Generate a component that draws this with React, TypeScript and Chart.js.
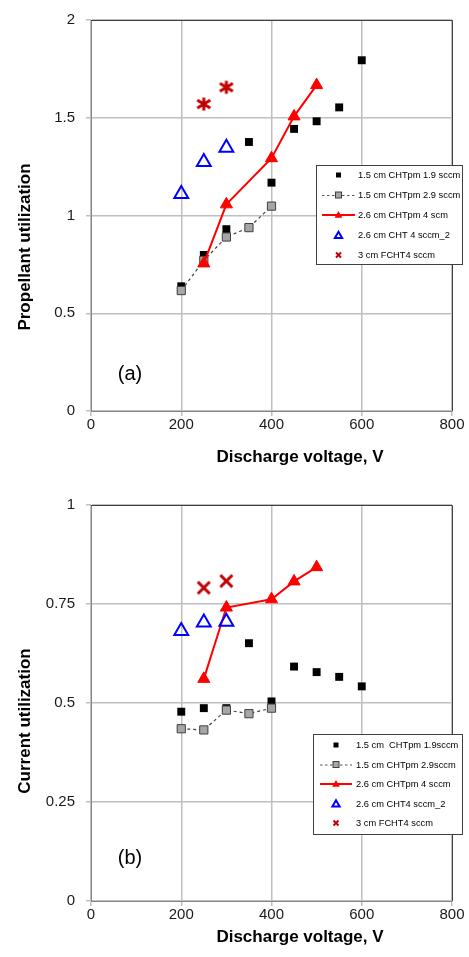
import React, { useEffect, useRef } from "react";
import { Chart, registerables } from "chart.js";

Chart.register(...registerables);

// ---------- data ----------
const X_TICKS = [0, 200, 400, 600, 800];
const Y_TICKS_A = [0, 0.5, 1, 1.5, 2];
const Y_TICKS_B = [0, 0.25, 0.5, 0.75, 1];

const LABELS_A = [
  "1.5 cm CHTpm 1.9 sccm",
  "1.5 cm CHTpm 2.9 sccm",
  "2.6 cm CHTpm 4 scm",
  "2.6 cm CHT 4 sccm_2",
  "3 cm FCHT4 sccm",
];
const LABELS_B = [
  "1.5 cm  CHTpm 1.9sccm",
  "1.5 cm CHTpm 2.9sccm",
  "2.6 cm CHTpm 4 sccm",
  "2.6 cm CHT4 sccm_2",
  "3 cm FCHT4 sccm",
];

// voltages
const V_S1 = [200, 250, 300, 350, 400, 450, 500, 550, 600];
const V_S2 = [200, 250, 300, 350, 400];
const V_S3 = [250, 300, 400, 450, 500];
const V_S4 = [200, 250, 300];
const V_S5 = [250, 300];

// (a) propellant utilization
const PU_S1 = [0.638, 0.798, 0.93, 1.376, 1.168, 1.443, 1.482, 1.553, 1.794];
const PU_S2 = [0.616, 0.77, 0.89, 0.938, 1.048];
const PU_S3 = [0.755, 1.057, 1.293, 1.507, 1.667];
const PU_S4 = [1.11, 1.274, 1.347];
const PU_S5 = [1.57, 1.656];

// (b) current utilization
const CU_S1 = [0.478, 0.487, 0.487, 0.651, 0.504, 0.592, 0.578, 0.566, 0.542];
const CU_S2 = [0.435, 0.432, 0.482, 0.473, 0.487];
const CU_S3 = [0.561, 0.741, 0.762, 0.807, 0.843];
const CU_S4 = [0.682, 0.703, 0.705];
const CU_S5 = [0.791, 0.808];

const FONT = "'Liberation Sans', Arial, sans-serif";
const DARK_RED = "#c00000";

const xy = (xs: number[], ys: number[]) => xs.map((x, i) => ({ x, y: ys[i] }));

function makeMarker(kind: "star" | "x", size: number, color: string, lw: number) {
  const c = document.createElement("canvas");
  c.width = size;
  c.height = size;
  const g = c.getContext("2d")!;
  g.strokeStyle = color;
  g.lineWidth = lw;
  g.lineCap = "butt";
  const m = size / 2;
  const p = 2.5;
  g.beginPath();
  if (kind === "star") {
    g.moveTo(m, p);
    g.lineTo(m, size - p);
    g.moveTo(p, m - 4);
    g.lineTo(size - p, m + 4);
    g.moveTo(p, m + 4);
    g.lineTo(size - p, m - 4);
  } else {
    g.moveTo(p, p);
    g.lineTo(size - p, size - p);
    g.moveTo(p, size - p);
    g.lineTo(size - p, p);
  }
  g.stroke();
  return c;
}

type Geom = {
  top: number;
  bottom: number;
  xAxisH: number;
  yTitleY: number;
  tagY: number;
  legend: { x: number; y: number; w: number; h: number; row0: number; dy: number; lx0: number; lx1: number; tx: number };
};

type PanelProps = {
  height: number;
  top: number;
  yTicks: number[];
  yMax: number;
  yTitle: string;
  tag: string;
  labels: string[];
  ys: number[][];
  star: "star" | "x";
  geom: Geom;
};

function drawTri(ctx: CanvasRenderingContext2D, x: number, y: number, r: number) {
  ctx.beginPath();
  for (let k = 0; k < 3; k++) {
    const a = (k * 2 * Math.PI) / 3;
    const px = x + Math.sin(a) * r;
    const py = y - Math.cos(a) * r;
    if (k === 0) ctx.moveTo(px, py);
    else ctx.lineTo(px, py);
  }
  ctx.closePath();
}

function Panel(props: PanelProps) {
  const ref = useRef<HTMLCanvasElement | null>(null);
  useEffect(() => {
    const canvas = ref.current;
    if (!canvas) return;
    const { geom, labels } = props;
    const starImg = makeMarker(props.star, props.star === "star" ? 18 : 17, DARK_RED, 3);

    const decor = {
      id: "decor",
      afterDraw(chart: any) {
        const ctx: CanvasRenderingContext2D = chart.ctx;
        const a = chart.chartArea;
        ctx.save();
        // top/right frame
        ctx.strokeStyle = "#404040";
        ctx.lineWidth = 1;
        ctx.setLineDash([]);
        ctx.beginPath();
        ctx.moveTo(a.left, Math.round(a.top) + 0.5);
        ctx.lineTo(Math.round(a.right) + 0.5, Math.round(a.top) + 0.5);
        ctx.lineTo(Math.round(a.right) + 0.5, a.bottom);
        ctx.stroke();

        // axis titles
        ctx.fillStyle = "#000";
        ctx.textAlign = "center";
        ctx.textBaseline = "middle";
        ctx.font = `bold 17px ${FONT}`;
        ctx.fillText("Discharge voltage, V", 300, 457);
        ctx.save();
        ctx.translate(25, geom.yTitleY);
        ctx.rotate(-Math.PI / 2);
        ctx.fillText(props.yTitle, 0, 0);
        ctx.restore();

        // tag
        ctx.font = `20px ${FONT}`;
        ctx.fillText(props.tag, 130, geom.tagY);

        // legend
        const L = geom.legend;
        ctx.fillStyle = "#fff";
        ctx.fillRect(L.x, L.y, L.w, L.h);
        ctx.strokeStyle = "#404040";
        ctx.lineWidth = 1;
        ctx.strokeRect(L.x + 0.5, L.y + 0.5, L.w, L.h);
        const mx = (L.lx0 + L.lx1) / 2;
        ctx.font = `9.3px ${FONT}`;
        ctx.textAlign = "left";
        ctx.textBaseline = "middle";
        labels.forEach((lab, i) => {
          const y = L.row0 + i * L.dy;
          ctx.save();
          if (i === 0) {
            ctx.fillStyle = "#000";
            ctx.fillRect(mx - 2.5, y - 2.5, 5, 5);
          } else if (i === 1) {
            ctx.strokeStyle = "#555";
            ctx.lineWidth = 1;
            ctx.setLineDash([2.5, 2.5]);
            ctx.beginPath();
            ctx.moveTo(L.lx0, y + 0.5);
            ctx.lineTo(L.lx1, y + 0.5);
            ctx.stroke();
            ctx.setLineDash([]);
            ctx.fillStyle = "#a6a6a6";
            ctx.fillRect(mx - 3, y - 3, 6, 6);
            ctx.strokeStyle = "#404040";
            ctx.strokeRect(mx - 3, y - 3, 6, 6);
          } else if (i === 2) {
            ctx.strokeStyle = "#ff0000";
            ctx.lineWidth = 2;
            ctx.beginPath();
            ctx.moveTo(L.lx0, y);
            ctx.lineTo(L.lx1, y);
            ctx.stroke();
            ctx.fillStyle = "#ff0000";
            drawTri(ctx, mx, y + 0.5, 4.5);
            ctx.fill();
          } else if (i === 3) {
            ctx.strokeStyle = "#0000ff";
            ctx.lineWidth = 2;
            drawTri(ctx, mx, y + 1, 4.2);
            ctx.stroke();
          } else {
            ctx.strokeStyle = DARK_RED;
            ctx.lineWidth = 2;
            ctx.beginPath();
            ctx.moveTo(mx - 2.5, y - 2.5);
            ctx.lineTo(mx + 2.5, y + 2.5);
            ctx.moveTo(mx - 2.5, y + 2.5);
            ctx.lineTo(mx + 2.5, y - 2.5);
            ctx.stroke();
          }
          ctx.restore();
          ctx.fillStyle = "#000";
          ctx.fillText(lab, L.tx, y + 0.5);
        });
        ctx.restore();
      },
    };

    const [s1, s2, s3, s4, s5] = props.ys;
    const chart = new Chart(canvas, {
      type: "scatter",
      data: {
        datasets: [
          {
            label: labels[0],
            data: xy(V_S1, s1),
            showLine: false,
            pointStyle: "rect",
            pointRadius: 5.6,
            pointHoverRadius: 5.6,
            pointBackgroundColor: "#000",
            pointBorderColor: "#000",
            pointBorderWidth: 0,
            order: 5,
          },
          {
            label: labels[1],
            data: xy(V_S2, s2),
            showLine: true,
            borderColor: "#404040",
            borderWidth: 1.2,
            borderDash: [3, 3],
            pointStyle: "rect",
            pointRadius: 5.8,
            pointHoverRadius: 5.8,
            pointBackgroundColor: "#a6a6a6",
            pointBorderColor: "#404040",
            pointBorderWidth: 1,
            order: 4,
          },
          {
            label: labels[2],
            data: xy(V_S3, s3),
            showLine: true,
            borderColor: "#ff0000",
            borderWidth: 2,
            pointStyle: "triangle",
            pointRadius: 7,
            pointHoverRadius: 7,
            pointBackgroundColor: "#ff0000",
            pointBorderColor: "#ff0000",
            pointBorderWidth: 1,
            order: 3,
          },
          {
            label: labels[3],
            data: xy(V_S4, s4),
            showLine: false,
            pointStyle: "triangle",
            pointRadius: 8,
            pointHoverRadius: 8,
            pointBackgroundColor: "rgba(0,0,0,0)",
            pointBorderColor: "#0000ff",
            pointBorderWidth: 2,
            order: 2,
          },
          {
            label: labels[4],
            data: xy(V_S5, s5),
            showLine: false,
            pointStyle: starImg as any,
            pointRadius: 7,
            order: 1,
          },
        ],
      },
      options: {
        animation: false,
        responsive: false,
        devicePixelRatio: 1,
        layout: { padding: { top: geom.top, right: 17, left: 0, bottom: 0 } },
        plugins: {
          legend: { display: false },
          title: { display: false },
          tooltip: { enabled: false },
        },
        scales: {
          x: {
            type: "linear",
            min: 0,
            max: 800,
            afterBuildTicks: (s: any) => {
              s.ticks = X_TICKS.map((v) => ({ value: v }));
            },
            afterFit: (s: any) => {
              s.height = geom.xAxisH;
            },
            ticks: {
              font: { family: FONT, size: 15 },
              color: "#1a1a1a",
              padding: 0,
              maxRotation: 0,
              autoSkip: false,
            },
            grid: { color: "#bfbfbf", lineWidth: 1.5, tickLength: 5, tickColor: "#bfbfbf" },
            border: { color: "#868686", width: 1 },
          },
          y: {
            type: "linear",
            min: 0,
            max: props.yMax,
            afterBuildTicks: (s: any) => {
              s.ticks = props.yTicks.map((v) => ({ value: v }));
            },
            afterFit: (s: any) => {
              s.width = 91;
            },
            ticks: {
              font: { family: FONT, size: 15 },
              color: "#1a1a1a",
              padding: 11,
              autoSkip: false,
              callback: (v: any) => String(v),
            },
            grid: { color: "#bfbfbf", lineWidth: 1.5, tickLength: 5, tickColor: "#bfbfbf" },
            border: { color: "#868686", width: 1 },
          },
        },
      },
      plugins: [decor],
    } as any);
    return () => chart.destroy();
  }, []);
  return (
    <canvas
      ref={ref}
      width={469}
      height={props.height}
      style={{ position: "absolute", left: 0, top: props.top, width: 469, height: props.height, display: "block" }}
    />
  );
}

export default function App() {
  return (
    <div style={{ position: "absolute", left: 0, top: 0, width: 469, height: 957, background: "#fff", overflow: "hidden" }}>
      <Panel
        height={480}
        top={0}
        yTicks={Y_TICKS_A}
        yMax={2}
        yTitle="Propellant utilization"
        tag="(a)"
        labels={LABELS_A}
        ys={[PU_S1, PU_S2, PU_S3, PU_S4, PU_S5]}
        star="star"
        geom={{
          top: 16,
          bottom: 411,
          xAxisH: 69,
          yTitleY: 247,
          tagY: 374,
          legend: { x: 316, y: 165, w: 146, h: 99, row0: 175, dy: 20, lx0: 322, lx1: 355, tx: 358 },
        }}
      />
      <Panel
        height={477}
        top={480}
        yTicks={Y_TICKS_B}
        yMax={1}
        yTitle="Current utilization"
        tag="(b)"
        labels={LABELS_B}
        ys={[CU_S1, CU_S2, CU_S3, CU_S4, CU_S5]}
        star="x"
        geom={{
          top: 25,
          bottom: 421,
          xAxisH: 56,
          yTitleY: 241,
          tagY: 378,
          legend: { x: 313, y: 254, w: 149, h: 100, row0: 265, dy: 19.5, lx0: 320, lx1: 352, tx: 356 },
        }}
      />
    </div>
  );
}
